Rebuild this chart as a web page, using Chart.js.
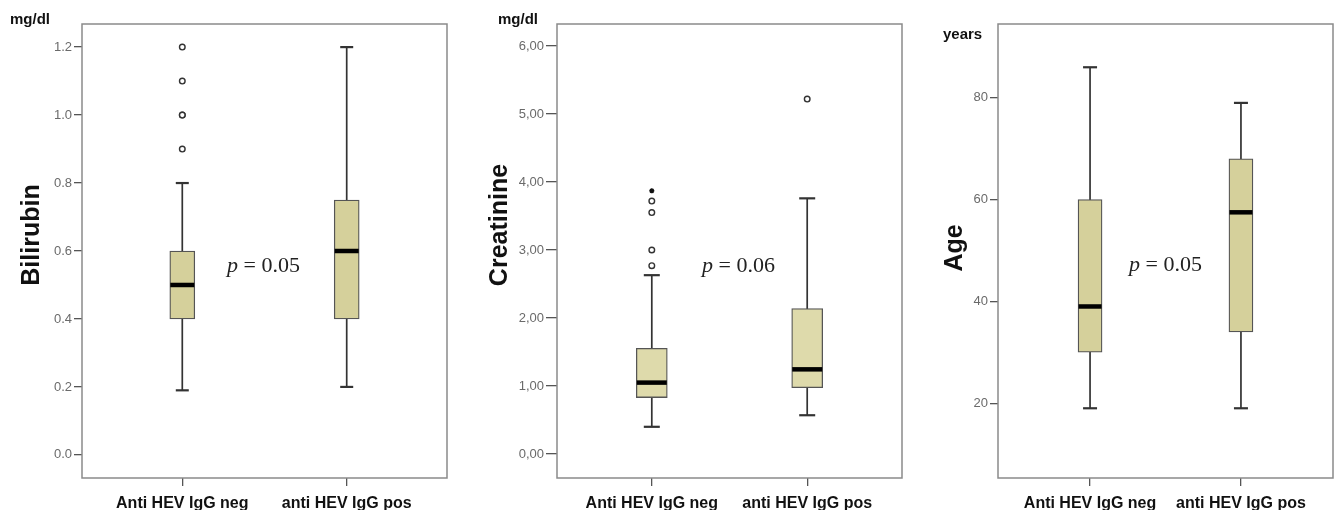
<!DOCTYPE html>
<html><head><meta charset="utf-8">
<script src="https://cdn.jsdelivr.net/npm/chart.js@4.4.1/dist/chart.umd.min.js"></script>
<style>
html,body{margin:0;padding:0;background:#fff;width:1334px;height:510px;overflow:hidden}
canvas{position:absolute;top:0}
</style></head><body>
<canvas id="c1" width="452" height="510" style="left:0px"></canvas>
<canvas id="c2" width="452" height="510" style="left:452px"></canvas>
<canvas id="c3" width="430" height="510" style="left:904px"></canvas>
<script>
// ---------- DATA ----------
const categories = ['Anti HEV IgG neg', 'anti HEV IgG pos'];
// five-number summaries: [lower whisker, Q1, median, Q3, upper whisker]
const bilirubinNeg = [0.19, 0.40, 0.50, 0.60, 0.80];
const bilirubinPos = [0.20, 0.40, 0.60, 0.75, 1.20];
const bilirubinOutliersNeg = [0.90, 1.00, 1.00, 1.10, 1.20];
const bilirubinOutliersPos = [];
const bilirubinExtremesNeg = [];

const creatinineNeg = [0.40, 0.83, 1.05, 1.555, 2.63];
const creatininePos = [0.57, 0.975, 1.245, 2.14, 3.76];
const creatinineOutliersNeg = [2.77, 3.00, 3.55, 3.72];
const creatinineOutliersPos = [5.22];
const creatinineExtremesNeg = [3.87];

const ageNeg = [19, 30, 39, 60, 86];
const agePos = [19, 34, 57.5, 68, 79];
const ageOutliersNeg = [];
const ageOutliersPos = [];
const ageExtremesNeg = [];

const bilirubinTicks = [0, 0.2, 0.4, 0.6, 0.8, 1.0, 1.2];
const bilirubinTickLabels = ['0.0', '0.2', '0.4', '0.6', '0.8', '1.0', '1.2'];
const creatinineTicks = [0, 1, 2, 3, 4, 5, 6];
const creatinineTickLabels = ['0,00', '1,00', '2,00', '3,00', '4,00', '5,00', '6,00'];
const ageTicks = [20, 40, 60, 80];
const ageTickLabels = ['20', '40', '60', '80'];

const yTitles = ['Bilirubin', 'Creatinine', 'Age'];
const units = ['mg/dl', 'mg/dl', 'years'];
const pValues = ['0.05', '0.06', '0.05'];

// ---------- LAYOUT / STYLE ----------
const NARROW = "'Liberation Sans Narrow', 'Arial Narrow', 'Liberation Sans', sans-serif";
const SANS = "'Liberation Sans', Arial, sans-serif";
const SERIF = "'Liberation Serif', 'DejaVu Serif', serif";

const layouts = [
  {id:'c1', width:452, areaLeft:82, areaRight:447, yMin:-0.068, yMax:1.268, boxWidth:25, capRadius:6.5,
   fill:'#d5d09b', tickFont:{family:NARROW, size:13}, tickLength:8, tickPad:2,
   unitPos:[10,20], titlePos:[32,235], pPos:[227,266]},
  {id:'c2', width:452, areaLeft:105, areaRight:450, yMin:-0.353, yMax:6.324, boxWidth:31, capRadius:8,
   fill:'#dedaab', tickFont:{family:SANS, size:13}, tickLength:11, tickPad:2,
   unitPos:[46,20], titlePos:[48,225], pPos:[250,266]},
  {id:'c3', width:430, areaLeft:94, areaRight:429, yMin:5.3, yMax:94.5, boxWidth:24, capRadius:7,
   fill:'#d5d09b', tickFont:{family:NARROW, size:13}, tickLength:8, tickPad:2,
   unitPos:[39,35], titlePos:[51,248], pPos:[225,265]}
];

const framePlugin = {
  id: 'frame',
  beforeDatasetsDraw(chart) {
    const a = chart.chartArea, ctx = chart.ctx;
    ctx.save();
    ctx.strokeStyle = '#8a8a8a';
    ctx.lineWidth = 1.5;
    ctx.strokeRect(a.left, a.top, a.right - a.left, a.bottom - a.top);
    ctx.restore();
  }
};

function textPlugin(L, title, unit, pv) {
  return {
    id: 'texts',
    afterDraw(chart) {
      const ctx = chart.ctx;
      ctx.save();
      ctx.fillStyle = '#111';
      ctx.textBaseline = 'middle';
      ctx.textAlign = 'left';
      ctx.font = 'bold 15px ' + SANS;
      ctx.fillText(unit, L.unitPos[0], L.unitPos[1]);
      // y title
      ctx.save();
      ctx.translate(L.titlePos[0], L.titlePos[1]);
      ctx.rotate(-Math.PI / 2);
      ctx.textAlign = 'center';
      ctx.font = 'bold 25px ' + SANS;
      ctx.fillText(title, 0, 0);
      ctx.restore();
      // p value
      let x = L.pPos[0];
      const y = L.pPos[1];
      ctx.fillStyle = '#222';
      ctx.font = 'italic 22px ' + SERIF;
      ctx.fillText('p', x, y);
      x += ctx.measureText('p').width;
      ctx.font = '22px ' + SERIF;
      ctx.fillText(' = ' + pv, x, y);
      ctx.restore();
    }
  };
}

function makeChart(L, neg, pos, outNeg, outPos, extNeg, ticks, tickLabels, title, unit, pv) {
  const boxes = [neg, pos];
  const datasets = [
    { type:'line', order:4,
      data:[{x:0,y:neg[0]},{x:0,y:neg[4]},{x:0.5,y:null},{x:1,y:pos[0]},{x:1,y:pos[4]}],
      borderColor:'#333', borderWidth:1.7, pointRadius:0, spanGaps:false, fill:false },
    { type:'scatter', order:3,
      data: boxes.flatMap((b,i)=>[{x:i,y:b[0]},{x:i,y:b[4]}]),
      pointStyle:'line', pointRadius:L.capRadius, pointBorderWidth:2.2, pointBorderColor:'#333' },
    { type:'bar', order:2,
      data: boxes.map((b,i)=>({x:i, y:[b[1], b[3]]})),
      backgroundColor:L.fill, borderColor:'#555', borderWidth:1.3, borderSkipped:false,
      barThickness:L.boxWidth },
    { type:'scatter', order:1,
      data: boxes.map((b,i)=>({x:i, y:b[2]})),
      pointStyle:'line', pointRadius:L.boxWidth/2 - 0.5, pointBorderWidth:4.5, pointBorderColor:'#000' },
    { type:'scatter', order:0,
      data: [...outNeg.map(v=>({x:0,y:v})), ...outPos.map(v=>({x:1,y:v}))],
      pointStyle:'circle', pointRadius:2.8, pointBackgroundColor:'#fff',
      pointBorderColor:'#333', pointBorderWidth:1.4 },
    { type:'scatter', order:0,
      data: extNeg.map(v=>({x:0,y:v})),
      pointStyle:'star', pointRadius:2.5, pointBorderColor:'#111', pointBorderWidth:1.5 }
  ];
  return new Chart(document.getElementById(L.id), {
    type:'bar',
    data:{ datasets },
    options:{
      responsive:false, animation:false, devicePixelRatio:1, events:[],
      layout:{ autoPadding:false, padding:{ left:0, top:24, right:L.width - L.areaRight, bottom:0 } },
      plugins:{ legend:{display:false}, tooltip:{enabled:false} },
      scales:{
        x:{ type:'linear', min:-0.61, max:1.61, offset:false,
            grid:{ offset:false, drawOnChartArea:false, drawTicks:true, tickLength:8, color:'#555', lineWidth:1.3 },
            border:{ display:false },
            afterBuildTicks:(s)=>{ s.ticks = categories.map((c,i)=>({value:i})); },
            afterFit:(s)=>{ s.height = 32; s.paddingLeft = 0; s.paddingRight = 0; },
            ticks:{ autoSkip:false, maxRotation:0, minRotation:0, padding:8, color:'#111',
                    font:{ family:SANS, size:16, weight:'bold' },
                    callback:(v,i)=>categories[i] } },
        y:{ type:'linear', min:L.yMin, max:L.yMax, beginAtZero:false,
            grid:{ drawOnChartArea:false, drawTicks:true, tickLength:L.tickLength, color:'#555', lineWidth:1.3 },
            border:{ display:false },
            afterBuildTicks:(s)=>{ s.ticks = ticks.map(v=>({value:v})); },
            afterFit:(s)=>{ s.width = L.areaLeft; s.paddingTop = 0; s.paddingBottom = 0; },
            ticks:{ padding:L.tickPad, color:'#6a6a6a', font:L.tickFont,
                    callback:(v,i)=>tickLabels[i] } }
      }
    },
    plugins:[framePlugin, textPlugin(L, title, unit, pv)]
  });
}

makeChart(layouts[0], bilirubinNeg, bilirubinPos, bilirubinOutliersNeg, bilirubinOutliersPos, bilirubinExtremesNeg,
          bilirubinTicks, bilirubinTickLabels, yTitles[0], units[0], pValues[0]);
makeChart(layouts[1], creatinineNeg, creatininePos, creatinineOutliersNeg, creatinineOutliersPos, creatinineExtremesNeg,
          creatinineTicks, creatinineTickLabels, yTitles[1], units[1], pValues[1]);
makeChart(layouts[2], ageNeg, agePos, ageOutliersNeg, ageOutliersPos, ageExtremesNeg,
          ageTicks, ageTickLabels, yTitles[2], units[2], pValues[2]);
</script>
</body></html>
